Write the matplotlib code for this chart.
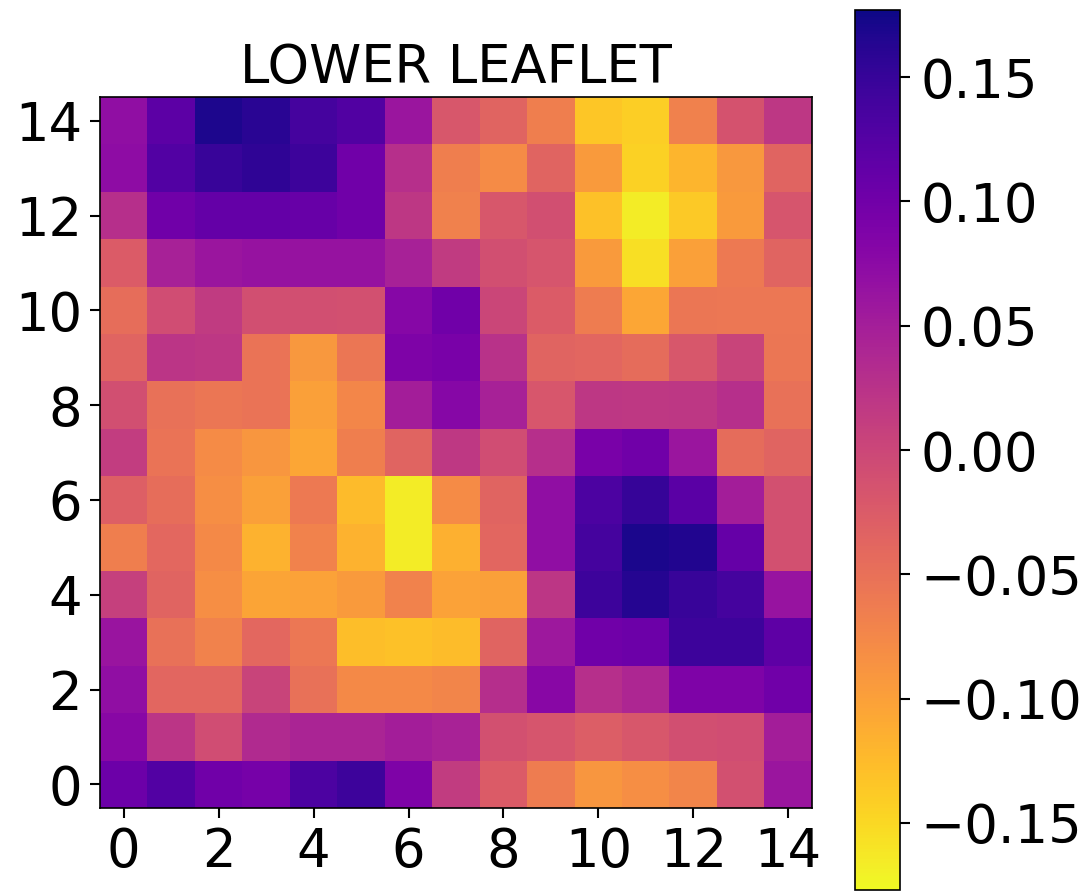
import numpy as np
import matplotlib
matplotlib.use("Agg")
import matplotlib.pyplot as plt

# rows listed from y=14 (top) down to y=0 (bottom); columns x=0..14
row14 = [0.070, 0.118, 0.168, 0.160, 0.138, 0.128, 0.060, -0.020, -0.035, -0.065, -0.135, -0.142, -0.068, -0.015, 0.018]
row13 = [0.072, 0.126, 0.148, 0.155, 0.145, 0.100, 0.028, -0.065, -0.080, -0.035, -0.095, -0.145, -0.120, -0.092, -0.035]
row12 = [0.028, 0.100, 0.112, 0.112, 0.108, 0.100, 0.018, -0.068, -0.020, -0.010, -0.130, -0.167, -0.138, -0.095, -0.017]
row11 = [-0.025, 0.046, 0.060, 0.064, 0.064, 0.064, 0.046, 0.014, -0.010, -0.017, -0.095, -0.156, -0.100, -0.060, -0.035]
row10 = [-0.046, -0.007, 0.014, -0.010, -0.010, -0.012, 0.080, 0.100, 0.000, -0.025, -0.063, -0.106, -0.056, -0.058, -0.058]
row9 = [-0.035, 0.022, 0.018, -0.053, -0.092, -0.056, 0.088, 0.092, 0.025, -0.035, -0.038, -0.045, -0.020, 0.004, -0.056]
row8 = [-0.010, -0.050, -0.056, -0.053, -0.100, -0.074, 0.050, 0.080, 0.046, -0.018, 0.018, 0.017, 0.018, 0.028, -0.050]
row7 = [0.012, -0.053, -0.080, -0.090, -0.106, -0.065, -0.035, 0.017, -0.008, 0.028, 0.092, 0.100, 0.060, -0.045, -0.035]
row6 = [-0.030, -0.047, -0.082, -0.100, -0.060, -0.125, -0.167, -0.080, -0.035, 0.070, 0.132, 0.150, 0.120, 0.050, -0.012]
row5 = [-0.065, -0.040, -0.077, -0.117, -0.070, -0.117, -0.167, -0.115, -0.038, 0.070, 0.138, 0.170, 0.165, 0.110, -0.012]
row4 = [0.008, -0.035, -0.082, -0.105, -0.102, -0.095, -0.070, -0.102, -0.100, 0.020, 0.145, 0.163, 0.148, 0.138, 0.063]
row3 = [0.062, -0.050, -0.070, -0.040, -0.058, -0.128, -0.130, -0.127, -0.035, 0.057, 0.100, 0.105, 0.145, 0.145, 0.117]
row2 = [0.070, -0.038, -0.038, 0.004, -0.050, -0.077, -0.077, -0.072, 0.030, 0.078, 0.028, 0.040, 0.088, 0.088, 0.100]
row1 = [0.078, 0.022, -0.008, 0.035, 0.042, 0.042, 0.050, 0.045, -0.012, -0.017, -0.028, -0.020, -0.010, -0.008, 0.050]
row0 = [0.105, 0.126, 0.100, 0.095, 0.132, 0.145, 0.088, 0.013, -0.025, -0.063, -0.090, -0.082, -0.072, -0.012, 0.060]

x_ticks = [0, 2, 4, 6, 8, 10, 12, 14]
y_ticks = [0, 2, 4, 6, 8, 10, 12, 14]
cbar_ticks = [-0.15, -0.10, -0.05, 0.00, 0.05, 0.10, 0.15]
title = "LOWER LEAFLET"

grid = np.array([row0, row1, row2, row3, row4, row5, row6, row7,
                 row8, row9, row10, row11, row12, row13, row14])

W, H = 1085, 891
fig = plt.figure(figsize=(W / 100, H / 100), dpi=100)
ax = fig.add_axes([100 / W, (H - 808) / H, 712 / W, 711 / H])
cax = fig.add_axes([855 / W, 1 / H, 45 / W, 880 / H])

im = ax.imshow(grid, cmap="plasma_r", origin="lower", vmin=-0.177, vmax=0.177,
               interpolation="nearest", aspect="auto")
ax.set_xticks(x_ticks)
ax.set_yticks(y_ticks)
ax.tick_params(labelsize=38, length=7, width=1.5, pad=6)
ax.set_title(title, fontsize=38, pad=10)
for s in ax.spines.values():
    s.set_linewidth(1.2)

cb = fig.colorbar(im, cax=cax, ticks=cbar_ticks)
cb.ax.tick_params(labelsize=38, length=7, width=1.5, pad=8)
cb.ax.set_yticklabels([f"{t:.2f}".replace("-", "\u2212") for t in cbar_ticks])
cb.outline.set_linewidth(1.2)

fig.savefig("out.png", dpi=100)
